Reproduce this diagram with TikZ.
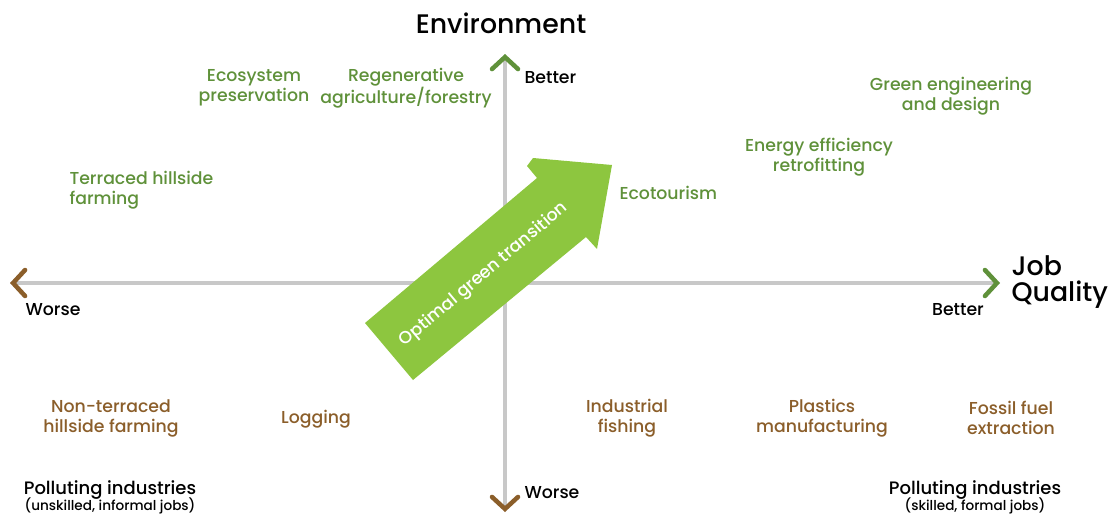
\documentclass[tikz,border=0pt]{standalone}
\usepackage{fontspec}
\setmainfont{Poppins}[UprightFont={* Medium}]
\usetikzlibrary{arrows.meta,calc}
\definecolor{leafgreen}{RGB}{95,145,58}
\definecolor{barkbrown}{RGB}{139,94,42}
\definecolor{axisgray}{RGB}{200,200,200}
\definecolor{limegreen}{RGB}{141,198,63}
\tikzset{
    axisline/.style = {draw=axisgray, line width=4pt},
    goodtip/.style = {-{Straight Barb[color=leafgreen,length=12pt,width=26pt,line width=4.5pt,line cap=round]}},
    badtip/.style = {-{Straight Barb[color=barkbrown,length=12pt,width=26pt,line width=4.5pt,line cap=round]}},
    goodlabel/.style = {text=leafgreen, font=\fontsize{17.3}{20}\selectfont, align=center},
    badlabel/.style = {text=barkbrown, font=\fontsize{17.3}{20}\selectfont, align=center},
    ticklabel/.style = {text=black, font=\fontsize{17.3}{20}\selectfont},
    axistitle/.style = {text=black, font=\fontsize{26.8}{26}\selectfont, align=left},
    note/.style = {text=black, font=\fontsize{18}{18}\selectfont, align=center}
}
\begin{document}
\begin{tikzpicture}[x=1pt,y=-1pt]
    \useasboundingbox (0,0) rectangle (1119,528);
    % axes
    \coordinate (origin) at (505,283);
    \coordinate (envtop) at (505,54);
    \coordinate (envbot) at (505,512);
    \coordinate (jobleft) at (10,283);
    \coordinate (jobright) at (1000,283);
    \draw[axisline,goodtip] (origin) -- (envtop);
    \draw[axisline,badtip] (origin) -- (envbot);
    \draw[axisline,badtip] (origin) -- (jobleft);
    \draw[axisline,goodtip] (origin) -- (jobright);
    % transition arrow
    \fill[limegreen] (365,323) -- (537,178) -- (527,166) -- (533,158) -- (612,165)
        -- (597,249) -- (586,237) -- (413,380) -- cycle;
    \node[text=white, font=\fontsize{17.3}{18}\selectfont, rotate=40] (transition) at (484,275) {Optimal green transition};
    % axis titles and ends
    \node[axistitle] (envtitle) at (501,23) {Environment};
    \node[axistitle, anchor=west] (jobtitle) at (1008,282) {Job\\Quality};
    \node[ticklabel, anchor=west] (envbetter) at (521,78) {Better};
    \node[ticklabel, anchor=west] (envworse) at (521,493) {Worse};
    \node[ticklabel] (jobworse) at (53,310) {Worse};
    \node[ticklabel] (jobbetter) at (958,310) {Better};
    % good jobs
    \node[goodlabel] (ecosystem) at (254,88) {Ecosystem\\preservation};
    \node[goodlabel] (regen) at (406,88) {Regenerative\\agriculture/forestry};
    \node[goodlabel] (greeneng) at (951,96) {Green engineering\\and design};
    \node[goodlabel] (efficiency) at (819,157) {Energy efficiency\\retrofitting};
    \node[goodlabel, anchor=west, align=left] (terraced) at (66,190) {Terraced hillside\\farming};
    \node[goodlabel, anchor=west] (ecotourism) at (616,193) {Ecotourism};
    % bad jobs
    \node[badlabel] (nonterraced) at (111,418) {Non-terraced\\hillside farming};
    \node[badlabel] (logging) at (316,419) {Logging};
    \node[badlabel] (fishing) at (627,418) {Industrial\\fishing};
    \node[badlabel] (plastics) at (822,418) {Plastics\\manufacturing};
    \node[badlabel] (fossil) at (1011,418) {Fossil fuel\\extraction};
    % polluting industries
    \node[note] (pollunskilled) at (110,497) {Polluting industries\\[-2pt]{\fontsize{13.6}{14}\selectfont (unskilled, informal jobs)}};
    \node[note] (pollskilled) at (975,497) {Polluting industries\\[-2pt]{\fontsize{13.6}{14}\selectfont (skilled, formal jobs)}};
\end{tikzpicture}
\end{document}
